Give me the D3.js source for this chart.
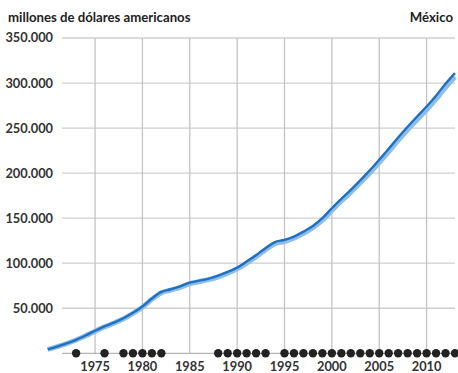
<!DOCTYPE html>
<html>
<head>
<meta charset="utf-8">
<script src="https://cdn.jsdelivr.net/npm/d3@7"></script>
<style>
  body { margin: 0; background: #fff; }
  svg { display: block; font-family: Lato, "Noto Sans", sans-serif; }
</style>
</head>
<body>
<div id="chart"></div>
<script>
const years = d3.range(1970, 2014);

// millones de dólares americanos
const serieOscura = [4400, 7500, 11000, 15000, 19800, 25000, 29800, 34000, 38900, 45000,
  52000, 60800, 68200, 71100, 74300, 78400, 80600, 82900, 86200, 90300,
  95100, 101800, 108900, 116700, 123500, 125900, 129600, 135100, 141400, 150000,
  161000, 171500, 181500, 192000, 203000, 214800, 227000, 239600, 251500, 262900,
  274000, 286000, 299200, 311000];

const serieClara = [4300, 7300, 10700, 14700, 19400, 24600, 29300, 33500, 38300, 44300,
  51200, 59900, 67300, 70200, 73300, 77300, 79500, 81700, 84900, 88900,
  93700, 100200, 107300, 115000, 121800, 124100, 127700, 133100, 139300, 147800,
  158600, 169000, 178900, 189300, 200100, 211700, 223800, 236300, 248100, 259300,
  270300, 282100, 295100, 306800];

const yTicks = [50000, 100000, 150000, 200000, 250000, 300000, 350000];
const xTicks = [1975, 1980, 1985, 1990, 1995, 2000, 2005, 2010];
const marcados = [1973, 1976, 1978, 1979, 1980, 1981, 1982,
  1988, 1989, 1990, 1991, 1992, 1993,
  1995, 1996, 1997, 1998, 1999, 2000, 2001, 2002, 2003, 2004, 2005,
  2006, 2007, 2008, 2009, 2010, 2011, 2012, 2013];

const W = 458, H = 373;

const svg = d3.select("#chart").append("svg")
  .attr("width", W)
  .attr("height", H);

const x = d3.scaleLinear().domain([1970, 2013]).range([47.7, 455]);
const y = d3.scaleLinear().domain([0, 350000]).range([353.3, 38]);

const fmt = d3.formatLocale({decimal: ",", thousands: ".", grouping: [3], currency: ["", ""]}).format(",");

// horizontal grid
svg.append("g")
  .selectAll("line")
  .data(yTicks)
  .join("line")
  .attr("x1", 62).attr("x2", 455)
  .attr("y1", d => y(d)).attr("y2", d => y(d))
  .attr("stroke", "#cfcfcf")
  .attr("stroke-width", 1.3);

// vertical grid
svg.append("g")
  .selectAll("line")
  .data(xTicks)
  .join("line")
  .attr("x1", d => x(d)).attr("x2", d => x(d))
  .attr("y1", y(350000)).attr("y2", y(0))
  .attr("stroke", "#c4c4c4")
  .attr("stroke-width", 1.3);

// baseline
svg.append("line")
  .attr("x1", 62).attr("x2", 455)
  .attr("y1", y(0)).attr("y2", y(0))
  .attr("stroke", "#b5b5b5")
  .attr("stroke-width", 1.3);

// y labels
svg.append("g")
  .selectAll("text")
  .data(yTicks)
  .join("text")
  .attr("x", 53)
  .attr("y", d => y(d))
  .attr("dy", "0.35em")
  .attr("text-anchor", "end")
  .attr("font-size", 12.8)
  .attr("font-weight", "bold")
  .attr("fill", "#333")
  .text(d => fmt(d));

// x labels
svg.append("g")
  .selectAll("text")
  .data(xTicks)
  .join("text")
  .attr("x", d => x(d))
  .attr("y", 371)
  .attr("text-anchor", "middle")
  .attr("font-size", 12.8)
  .attr("font-weight", "bold")
  .attr("fill", "#333")
  .text(d => d);

const line = d3.line()
  .x(d => x(d[0]))
  .y(d => y(d[1]))
  .curve(d3.curveCatmullRom.alpha(0.5));

svg.append("path")
  .datum(years.map((yr, i) => [yr, serieClara[i]]))
  .attr("d", line)
  .attr("fill", "none")
  .attr("stroke", "#8dbde8")
  .attr("stroke-width", 5);

svg.append("path")
  .datum(years.map((yr, i) => [yr, serieOscura[i]]))
  .attr("d", line)
  .attr("fill", "none")
  .attr("stroke", "#1f70c1")
  .attr("stroke-width", 2.4);

// marked years
svg.append("g")
  .selectAll("circle")
  .data(marcados)
  .join("circle")
  .attr("cx", d => x(d))
  .attr("cy", y(0))
  .attr("r", 4.2)
  .attr("fill", "#222");

// titles
svg.append("text")
  .attr("x", 8).attr("y", 22)
  .attr("font-size", 13.2)
  .attr("font-weight", "bold")
  .attr("fill", "#222")
  .text("millones de dólares americanos");

svg.append("text")
  .attr("x", 453).attr("y", 22)
  .attr("text-anchor", "end")
  .attr("font-size", 13.2)
  .attr("font-weight", "bold")
  .attr("fill", "#222")
  .text("México");
</script>
</body>
</html>
